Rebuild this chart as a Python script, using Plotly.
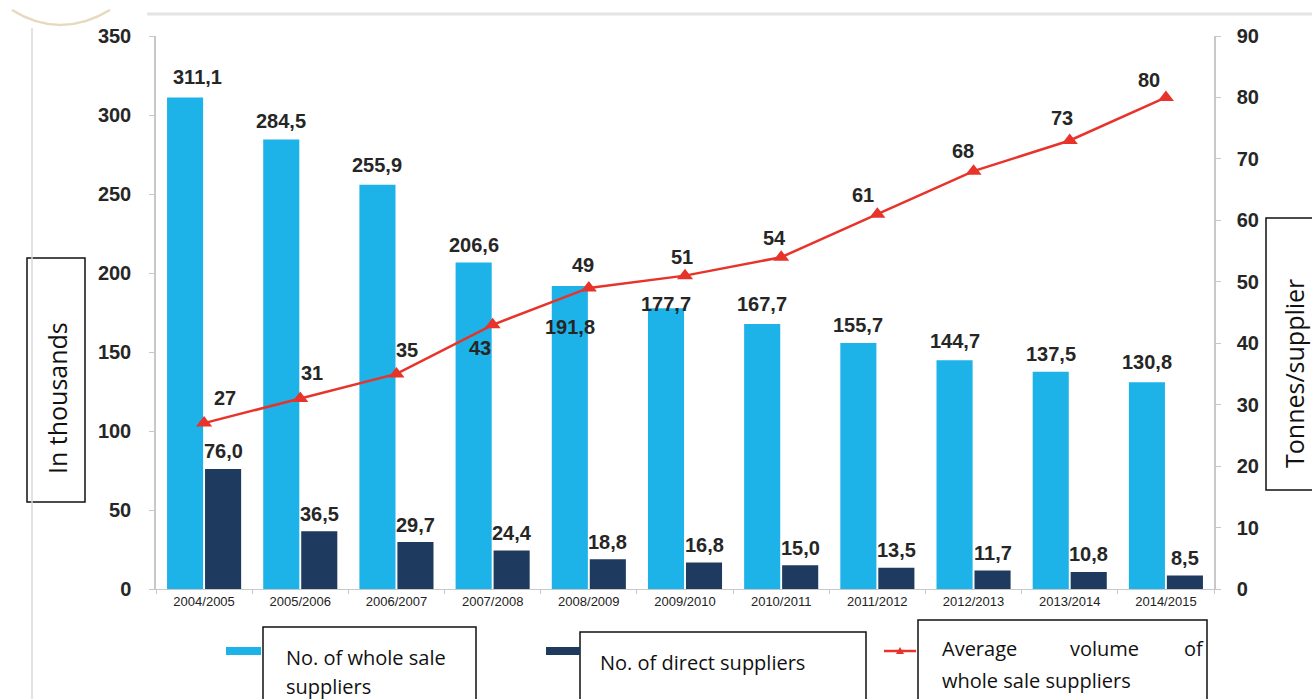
import plotly.graph_objects as go

# ---------------- data ----------------
seasons = ["2004/2005", "2005/2006", "2006/2007", "2007/2008", "2008/2009", "2009/2010",
           "2010/2011", "2011/2012", "2012/2013", "2013/2014", "2014/2015"]
wholesale = [311.1, 284.5, 255.9, 206.6, 191.8, 177.7, 167.7, 155.7, 144.7, 137.5, 130.8]
direct = [76.0, 36.5, 29.7, 24.4, 18.8, 16.8, 15.0, 13.5, 11.7, 10.8, 8.5]
avg_volume = [27, 31, 35, 43, 49, 51, 54, 61, 68, 73, 80]

left_ticks = [0, 50, 100, 150, 200, 250, 300, 350]
right_ticks = [0, 10, 20, 30, 40, 50, 60, 70, 80, 90]

# ---------------- label offsets (style, px) ----------------
ws_dx = [12, 0, 0, 0, 0, 0, 0, 0, 0, 0, 0]
ws_dy = [20, 18, 20, 18, -41, 4, 20, 18, 19, 18, 20]
dr_dy = [18, 17, 17, 17, 17, 17, 17, 18, 18, 18, 18]
av_dx = [21, 12, 11, -13, -6, -3, -7, -14, -11, -8, -17]
av_dy = [25, 26, 24, -23, 23, 19, 19, 19, 20, 22, 17]

LIGHT = "#1DB2E8"
DARK = "#1E3A5F"
RED = "#E8332B"

# layout geometry (px)
W, H = 1312, 699
L, R, T, B = 156, 98, 36, 110
PW = W - L - R
PH = H - T - B


def px(x):
    return (x - L) / PW


def py(y):
    return (H - B - y) / PH


def fmt(v):
    return f"{v:.1f}".replace(".", ",")


fig = go.Figure()
fig.add_trace(go.Bar(x=seasons, y=wholesale, name="No. of whole sale suppliers",
                     marker=dict(color=LIGHT, line=dict(width=0))))
fig.add_trace(go.Bar(x=seasons, y=direct, name="No. of direct suppliers",
                     marker=dict(color=DARK, line=dict(width=0))))
fig.add_trace(go.Scatter(x=seasons, y=avg_volume, yaxis="y2", mode="lines+markers",
                         name="Average volume of whole sale suppliers",
                         line=dict(color=RED, width=2.5),
                         marker=dict(symbol="triangle-up", size=14, color=RED)))

label_font = dict(family="Liberation Sans, Arial, sans-serif", size=20, color="#262626")
anns = []
for i, s in enumerate(seasons):
    anns.append(dict(x=s, y=wholesale[i], xref="x", yref="y", text=f"<b>{fmt(wholesale[i])}</b>",
                     showarrow=False, xshift=-19 + ws_dx[i], yshift=ws_dy[i],
                     xanchor="center", yanchor="middle", font=label_font))
    anns.append(dict(x=s, y=direct[i], xref="x", yref="y", text=f"<b>{fmt(direct[i])}</b>",
                     showarrow=False, xshift=19, yshift=dr_dy[i],
                     xanchor="center", yanchor="middle", font=label_font))
    anns.append(dict(x=s, y=avg_volume[i], xref="x", yref="y2", text=f"<b>{avg_volume[i]}</b>",
                     showarrow=False, xshift=av_dx[i], yshift=av_dy[i],
                     xanchor="center", yanchor="middle", font=label_font))

box_font = dict(family="Open Sans, Noto Sans, sans-serif", size=20, color="#111111")
title_font = dict(family="Open Sans, Noto Sans, sans-serif", size=25, color="#111111")

# axis title boxes
anns.append(dict(x=px(57), y=py(398), xref="paper", yref="paper", text="In thousands",
                 textangle=-90, showarrow=False, xanchor="center", yanchor="middle", font=title_font))
anns.append(dict(x=px(1294), y=py(374), xref="paper", yref="paper", text="Tonnes/supplier",
                 textangle=-90, showarrow=False, xanchor="center", yanchor="middle", font=title_font))


# legend texts
def legend_text(txt, x, y):
    anns.append(dict(x=px(x), y=py(y), xref="paper", yref="paper", text=txt,
                     xanchor="left", yanchor="middle", showarrow=False, font=box_font))


legend_text("No. of whole sale", 284, 657)
legend_text("suppliers", 284, 686)
legend_text("No. of direct suppliers", 598, 662)
for word, xx in [("Average", 940), ("volume", 1068), ("of", 1182)]:
    legend_text(word, xx, 648)
legend_text("whole sale suppliers", 940, 680)

shapes = []
# axis-title boxes
shapes.append(dict(type="rect", xref="paper", yref="paper", x0=px(27), x1=px(85), y0=py(258), y1=py(502),
                   line=dict(color="#111", width=1.5), fillcolor="rgba(0,0,0,0)"))
shapes.append(dict(type="rect", xref="paper", yref="paper", x0=px(1266), x1=px(1320), y0=py(218), y1=py(490),
                   line=dict(color="#111", width=1.5), fillcolor="rgba(0,0,0,0)"))
# legend boxes
shapes.append(dict(type="rect", xref="paper", yref="paper", x0=px(263), x1=px(476), y0=py(627), y1=py(710),
                   line=dict(color="#111", width=1.5)))
shapes.append(dict(type="rect", xref="paper", yref="paper", x0=px(580), x1=px(866), y0=py(632), y1=py(710),
                   line=dict(color="#111", width=1.5)))
shapes.append(dict(type="rect", xref="paper", yref="paper", x0=px(918), x1=px(1207), y0=py(620), y1=py(710),
                   line=dict(color="#111", width=1.5)))
# legend symbols
shapes.append(dict(type="rect", xref="paper", yref="paper", x0=px(226), x1=px(261), y0=py(647), y1=py(655),
                   line=dict(width=0), fillcolor=LIGHT))
shapes.append(dict(type="rect", xref="paper", yref="paper", x0=px(546), x1=px(580), y0=py(647), y1=py(655),
                   line=dict(width=0), fillcolor=DARK))
shapes.append(dict(type="line", xref="paper", yref="paper", x0=px(884), x1=px(916), y0=py(651), y1=py(651),
                   line=dict(color=RED, width=2.5)))
shapes.append(dict(type="path", xref="paper", yref="paper",
                   path=f"M {px(896)} {py(654)} L {px(904)} {py(654)} L {px(900)} {py(647)} Z",
                   line=dict(width=0), fillcolor=RED))
# decorations
shapes.append(dict(type="line", xref="paper", yref="paper", x0=px(147), x1=px(1312), y0=py(14), y1=py(14),
                   line=dict(color="#E4E4E4", width=3)))
shapes.append(dict(type="line", xref="paper", yref="paper", x0=px(32), x1=px(32), y0=py(28), y1=py(699),
                   line=dict(color="#D8D8D8", width=1.5)))
shapes.append(dict(type="path", xref="paper", yref="paper",
                   path=f"M {px(12)} {py(10)} Q {px(60)} {py(40)} {px(110)} {py(10)}",
                   line=dict(color="#E6D9BE", width=2.5)))

tick_font = dict(family="Liberation Sans, Arial, sans-serif", size=20, color="#262626", weight="bold")

fig.update_layout(
    width=W, height=H,
    margin=dict(l=L, r=R, t=T, b=B, pad=0),
    paper_bgcolor="white", plot_bgcolor="white",
    barmode="group", bargap=0.21, bargroupgap=0.05,
    showlegend=False,
    xaxis=dict(type="category", range=[-0.5, len(seasons) - 0.5], showgrid=False, showline=True,
               linecolor="#C8C8C8", linewidth=1,
               ticks="outside", tickson="boundaries", ticklen=4, tickcolor="#C8C8C8",
               tickfont=dict(family="Liberation Sans, Arial, sans-serif", size=13, color="#222"),
               fixedrange=True),
    yaxis=dict(range=[0, 350], tickvals=left_ticks, showgrid=False, zeroline=False,
               showline=True, linecolor="#C8C8C8", linewidth=1.5, ticks="outside", ticklen=5,
               tickcolor="#C8C8C8", tickfont=tick_font, ticklabelstandoff=14),
    yaxis2=dict(range=[0, 90], tickvals=right_ticks, overlaying="y", side="right", showgrid=False,
                zeroline=False, showline=True, linecolor="#C8C8C8", linewidth=1.5, ticks="outside",
                ticklen=5, tickcolor="#C8C8C8", tickfont=tick_font, ticklabelstandoff=12),
    annotations=anns,
    shapes=shapes,
)

fig.write_html("out.html")
